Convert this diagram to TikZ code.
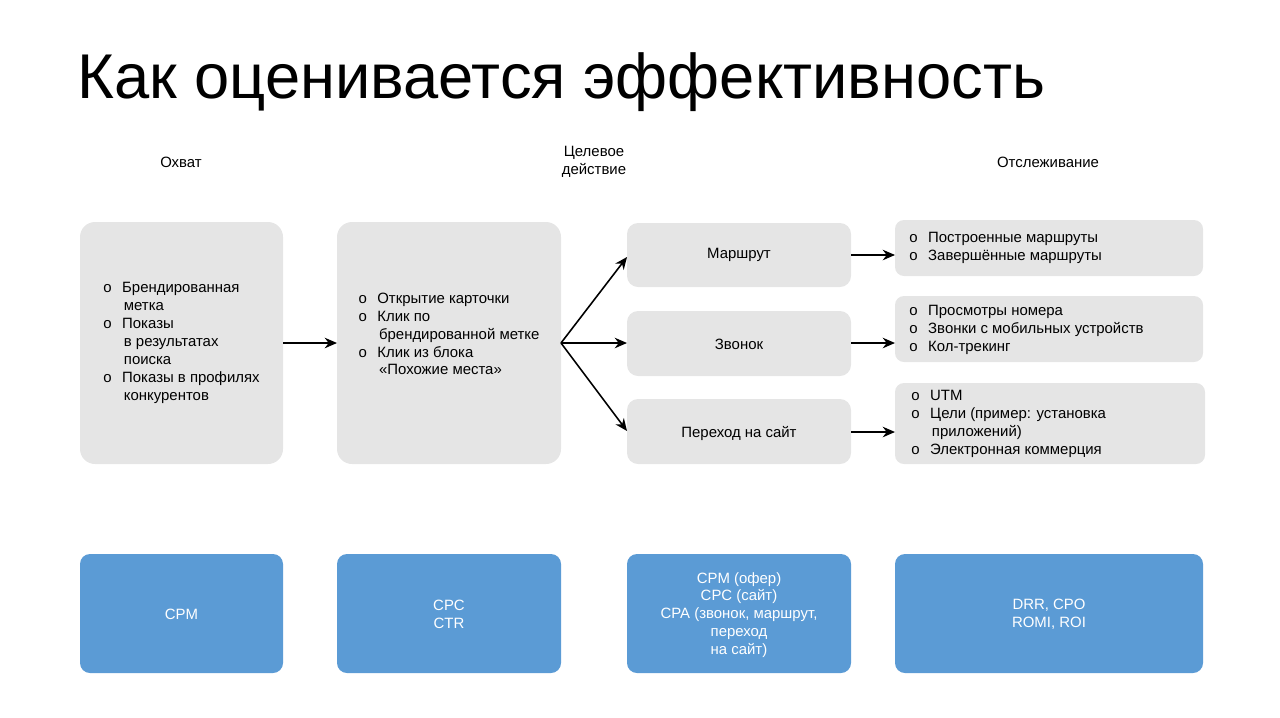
\documentclass[tikz,border=0pt]{standalone}
\usepackage{fontspec}
\setmainfont{Liberation Sans}
\usetikzlibrary{arrows.meta}
\begin{document}
\begin{tikzpicture}[x=0.02cm,y=-0.02cm,
  grey/.style={fill=black!10,rounded corners=0.3cm,draw=none},
  blue/.style={fill=blue!40!cyan!50!black!0,fill={rgb,255:red,91;green,155;blue,213},rounded corners=0.2cm,draw=none},
  txt/.style={font=\fontsize{8.5}{10.2}\selectfont,align=left,inner sep=0pt},
  btxt/.style={font=\fontsize{8.5}{10.2}\selectfont,align=center,text=white,inner sep=0pt},
  arr/.style={-{Stealth[length=7pt,width=6pt]},line width=0.9pt}]
\useasboundingbox (0,0) rectangle (1280,717);
\node[anchor=base west,inner sep=0pt,font=\fontsize{36}{40}\selectfont] (title) at (77,98) {Как оценивается эффективность};
\node[txt,align=center] (h1) at (181,162) {Охват};
\node[txt,align=center] (h2) at (594,162) {Целевое\\действие};
\node[txt,align=center] (h3) at (1048,162) {Отслеживание};
\newcommand{\bl}{o\hspace{6pt}}
\newcommand{\ct}{\hspace{11.7pt}}
\path[grey] (80,222) rectangle (283,464); \coordinate (b1) at (181.5,343);
\node[txt] (t1) at (181.5,343) {\bl Брендированная\\\ct метка\\\bl Показы\\\ct в результатах\\\ct поиска\\\bl Показы в профилях\\\ct конкурентов};
\path[grey] (337,222) rectangle (561,464);
\node[txt] (t2) at (449,334) {\bl Открытие карточки\\\bl Клик по\\\ct брендированной метке\\\bl Клик из блока\\\ct «Похожие места»};
\coordinate (b1r) at (283,343); \coordinate (b2l) at (337,343); \coordinate (b2r) at (561,343);
\path[grey,rounded corners=0.22cm] (627,223) rectangle (851,287);
\path[grey,rounded corners=0.22cm] (627,311) rectangle (851,376);
\path[grey,rounded corners=0.22cm] (627,399) rectangle (851,464);
\node[txt] (m) at (739,255) {Маршрут};
\node[txt] (z) at (739,344) {Звонок};
\node[txt] (p) at (739,433) {Переход на сайт};
\path[grey,rounded corners=0.18cm] (895,220) rectangle (1203,276);
\path[grey,rounded corners=0.18cm] (895,296) rectangle (1203,362);
\path[grey,rounded corners=0.18cm] (895,383) rectangle (1205,464);
\node[txt,anchor=west] (r1) at (909,248) {\bl Построенные маршруты\\\bl Завершённые маршруты};
\node[txt,anchor=west] (r2) at (909,330) {\bl Просмотры номера\\\bl Звонки с мобильных устройств\\\bl Кол-трекинг};
\node[txt,anchor=west] (r3) at (911,424) {\bl UTM\\\bl Цели (пример: установка\\\ct приложений)\\\bl Электронная коммерция};
\coordinate (ml) at (627,257); \coordinate (zl) at (627,343); \coordinate (pl) at (627,431);
\coordinate (mr) at (851,255); \coordinate (zr) at (851,343); \coordinate (pr) at (851,432);
\coordinate (r1l) at (895,255); \coordinate (r2l) at (895,343); \coordinate (r3l) at (895,432);
\draw[arr] (b1r) -- (b2l);
\draw[arr] (b2r) -- (ml);
\draw[arr] (b2r) -- (zl);
\draw[arr] (b2r) -- (pl);
\draw[arr] (mr) -- (r1l);
\draw[arr] (zr) -- (r2l);
\draw[arr] (pr) -- (r3l);
\path[blue] (80,554) rectangle (283,673);
\path[blue] (337,554) rectangle (561,673);
\path[blue] (627,554) rectangle (851,673);
\path[blue] (895,554) rectangle (1203,673);
\node[btxt] (c1) at (181.5,614) {CPM};
\node[btxt] (c2) at (449,614) {CPC\\CTR};
\node[btxt] (c3) at (739,615) {CPM (офер)\\CPC (сайт)\\CPA (звонок, маршрут,\\переход\\на сайт)};
\node[btxt] (c4) at (1049,614) {DRR, CPO\\ROMI, ROI};
\end{tikzpicture}
\end{document}
